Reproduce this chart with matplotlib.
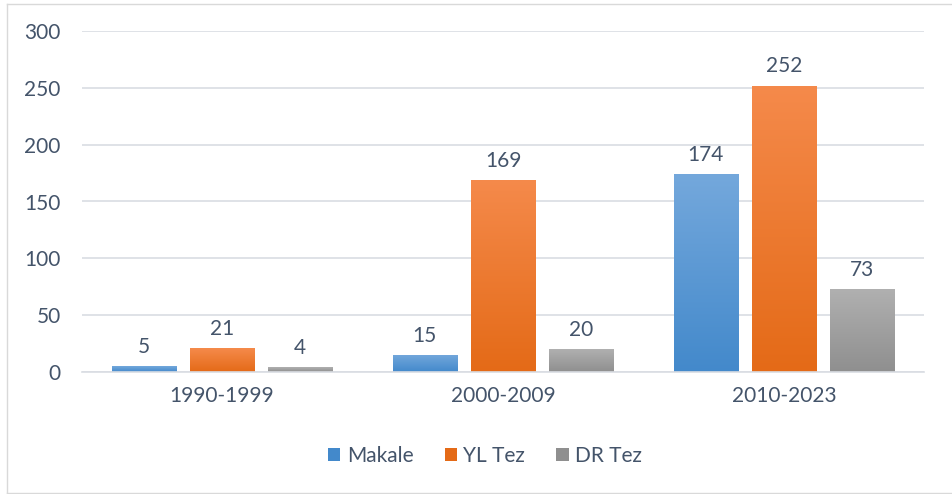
import numpy as np
import matplotlib
matplotlib.use("Agg")
import matplotlib.pyplot as plt
from matplotlib.colors import LinearSegmentedColormap
from matplotlib.patches import Rectangle
from matplotlib.lines import Line2D

# Data
periods = ["1990-1999", "2000-2009", "2010-2023"]
makale = [5, 15, 174]
yl_tez = [21, 169, 252]
dr_tez = [4, 20, 73]
series_names = ["Makale", "YL Tez", "DR Tez"]

# (top colour, bottom colour) for the gradient fill of each series
GRADIENTS = [
    ("#74a8dc", "#4389cb"),
    ("#f58a4b", "#e46a17"),
    ("#b0b0b0", "#8f8f8f"),
]
TEXT_COLOR = "#44546a"
GRID_COLOR = "#d9dde3"
FS = 15

plt.rcParams["font.family"] = ["Lato", "DejaVu Sans"]

fig = plt.figure(figsize=(9.53, 4.94), dpi=100)
ax = fig.add_axes([81.5 / 953, 1 - 372 / 494, 843 / 953, 341 / 494])

# light frame around the chart area (right edge is cut off in the reference)
fx0, fy0, fy1 = 6.5 / 953, 1 - 493 / 494, 1 - 4 / 494
for xs, ys in [([fx0, fx0], [fy0, fy1]), ([fx0, 1], [fy1, fy1]), ([fx0, 1], [fy0, fy0])]:
    fig.lines.append(Line2D(xs, ys, transform=fig.transFigure, color="#d9d9d9", linewidth=1))

x = np.arange(len(periods))
width = 0.228
step = 0.278
all_series = [makale, yl_tez, dr_tez]

for i, (vals, name, (ctop, cbot)) in enumerate(zip(all_series, series_names, GRADIENTS)):
    cmap = LinearSegmentedColormap.from_list(name, [cbot, ctop])
    offs = x + (i - 1) * step
    bars = ax.bar(offs, vals, width, color=cbot, label=name, zorder=2)
    for bar, v in zip(bars, vals):
        bx, by = bar.get_x(), bar.get_y()
        bw, bh = bar.get_width(), bar.get_height()
        grad = np.linspace(0, 1, 256).reshape(-1, 1)
        img = ax.imshow(grad, cmap=cmap, origin="lower", aspect="auto",
                        extent=[bx, bx + bw, by, by + bh], zorder=2.5)
        img.set_clip_path(bar)
        ax.text(bx + bw / 2, v + 8, str(v), ha="center", va="bottom",
                fontsize=FS, color=TEXT_COLOR, zorder=3)

ax.set_xlim(-0.5, 2.5)
ax.set_ylim(0, 300)
ax.set_yticks(range(0, 301, 50))
ax.set_xticks(x)
ax.set_xticklabels(periods)
ax.grid(axis="y", color=GRID_COLOR, linewidth=1.2, zorder=0)
ax.set_axisbelow(True)
for s in ["top", "right", "left"]:
    ax.spines[s].set_visible(False)
ax.spines["bottom"].set_color(GRID_COLOR)
ax.spines["bottom"].set_linewidth(1.2)
ax.tick_params(axis="both", length=0, labelsize=FS, colors=TEXT_COLOR)
ax.tick_params(axis="y", pad=15)
ax.tick_params(axis="x", pad=10)

handles = [Rectangle((0, 0), 1, 1, facecolor=g[1]) for g in GRADIENTS]
fig.legend(handles, series_names, loc="center", bbox_to_anchor=(485 / 953, 1 - 456 / 494),
           ncol=3, frameon=False, fontsize=FS, labelcolor=TEXT_COLOR,
           handlelength=0.6, handleheight=0.6, handletextpad=0.3, columnspacing=1.5)

fig.savefig("out.png", dpi=100, facecolor="white")
